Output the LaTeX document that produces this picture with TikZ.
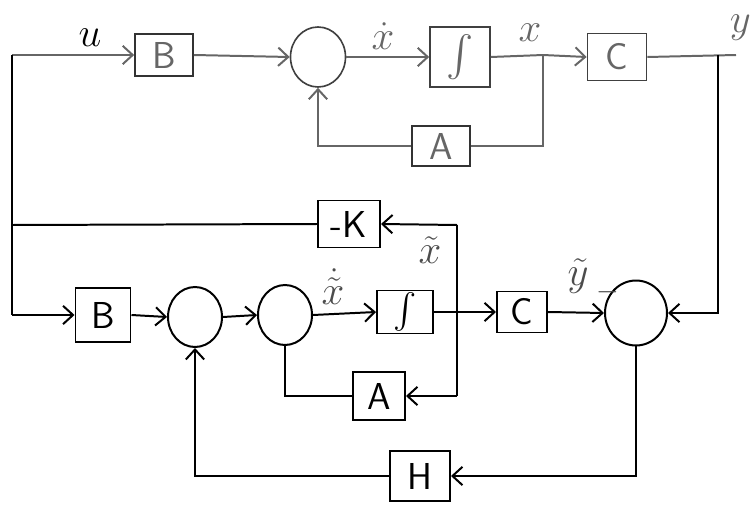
\documentclass[tikz,border=0pt]{standalone}
\usepackage{amsmath}
\usetikzlibrary{arrows.meta,shapes.geometric}
\tikzset{
  blk/.style={draw, line width=1.7pt, inner sep=0pt, font=\fontsize{32}{36}\selectfont\sffamily},
  sumj/.style={draw, ellipse, line width=1.7pt, inner sep=0pt},
  wire/.style={line width=1.7pt},
  arr/.style={wire, -{Straight Barb[length=3mm,width=5.5mm,line width=1.7pt]}},
  lbl/.style={font=\fontsize{26}{30}\selectfont, inner sep=0pt},
  faint/.style={draw=black!55, text=black!60, line width=1.4pt},
}
\begin{document}
\begin{tikzpicture}[x=0.03cm,y=-0.03cm]
\useasboundingbox (0,0) rectangle (751,507);
% ---------- top row ----------
\node[blk, faint, draw=black!80, minimum width=17.4mm, minimum height=12.6mm] (B1) at (164,55) {B};
\node[sumj, faint, draw=black!75, minimum width=16.5mm, minimum height=18mm] (S1) at (318,57) {};
\node[blk, faint, draw=black!75, minimum width=18mm, minimum height=18mm] (I1) at (460,57) {\scalebox{1.4}{$\int$}};
\node[blk, faint, draw=black!75, minimum width=17.7mm, minimum height=14.1mm] (C1) at (617,57) {C};
\node[blk, faint, draw=black!80, minimum width=17.4mm, minimum height=12mm] (A1) at (441,146) {A};
\coordinate (tl) at (12,55);
\coordinate (j1) at (543,55);
\coordinate (j2) at (718,55);
\coordinate (yout) at (736,55);
\node[lbl] (lu) at (90,38) {\scalebox{1.4}{$u$}};
\node[lbl, text=black!60] (lxd) at (383,36) {\scalebox{1.4}{$\dot{x}$}};
\node[lbl, text=black!60] (lx) at (530,33) {\scalebox{1.4}{$x$}};
\node[lbl, text=black!60, anchor=east] (ly) at (751,28) {\scalebox{1.4}{$y$}};
% ---------- middle ----------
\node[blk, minimum width=18.6mm, minimum height=14.1mm] (K) at (349,224) {-K};
\coordinate (kl) at (12,225);
\coordinate (kj) at (457,225);
\coordinate (aj) at (457,396);
\node[lbl, text=black!70] (lxt) at (430,250) {\scalebox{1.4}{$\tilde{x}$}};
% ---------- bottom row ----------
\node[blk, minimum width=16.5mm, minimum height=16.2mm] (B2) at (103,315) {B};
\node[sumj, minimum width=16.2mm, minimum height=18mm] (S2) at (195,317) {};
\node[sumj, minimum width=16.2mm, minimum height=18mm] (S3) at (285,315) {};
\node[blk, minimum width=16.8mm, minimum height=12.9mm] (I2) at (405,312) {\scalebox{1.2}{$\int$}};
\node[blk, minimum width=15mm, minimum height=12.3mm] (C2) at (522,312) {C};
\node[sumj, minimum width=18.6mm, minimum height=19.5mm] (S4) at (636,313) {};
\node[blk, minimum width=15.6mm, minimum height=14.4mm] (A2) at (379,396) {A};
\node[blk, minimum width=18mm, minimum height=15mm] (H) at (420,476) {H};
\coordinate (bl) at (12,315);
\coordinate (j3) at (457,312);
\node[lbl, text=black!70] (lxtd) at (333,287) {\scalebox{1.4}{$\dot{\tilde{x}}$}};
\node[lbl, text=black!70] (lyt) at (578,276) {\scalebox{1.4}{$\tilde{y}$}};
\node[lbl, text=black!70] (lminus) at (608,292) {$-$};
% ---------- top connectors ----------
\begin{scope}[black!60, every path/.append style={line width=1.4pt}]
\draw[arr] (tl) -- (B1.west);
\draw[arr] (B1.east) -- (S1.west);
\draw[arr] (S1.east) -- (I1.west);
\draw[wire] (I1.east) -- (j1);
\draw[arr] (j1) -- (C1.west);
\draw[wire] (j1) |- (A1.east);
\draw[arr] (A1.west) -| (S1.south);
\draw[wire] (C1.east) -- (yout);
\end{scope}
% ---------- feedback connectors ----------
\draw[wire] (tl) -- (bl);
\draw[arr] (bl) -- (B2.west);
\draw[wire] (K.west) -- (kl);
\draw[arr] (j2) |- (S4.east);
\draw[wire] (kj) -- (aj);
\draw[arr] (kj) -- (K.east);
\draw[arr] (aj) -- (A2.east);
% ---------- bottom connectors ----------
\draw[arr] (B2.east) -- (S2.west);
\draw[arr] (S2.east) -- (S3.west);
\draw[arr] (S3.east) -- (I2.west);
\draw[wire] (I2.east) -- (j3);
\draw[arr] (j3) -- (C2.west);
\draw[arr] (C2.east) -- (S4.west);
\draw[wire] (S3.south) |- (A2.west);
\draw[arr] (S4.south) |- (H.east);
\draw[arr] (H.west) -| (S2.south);
\end{tikzpicture}
\end{document}
